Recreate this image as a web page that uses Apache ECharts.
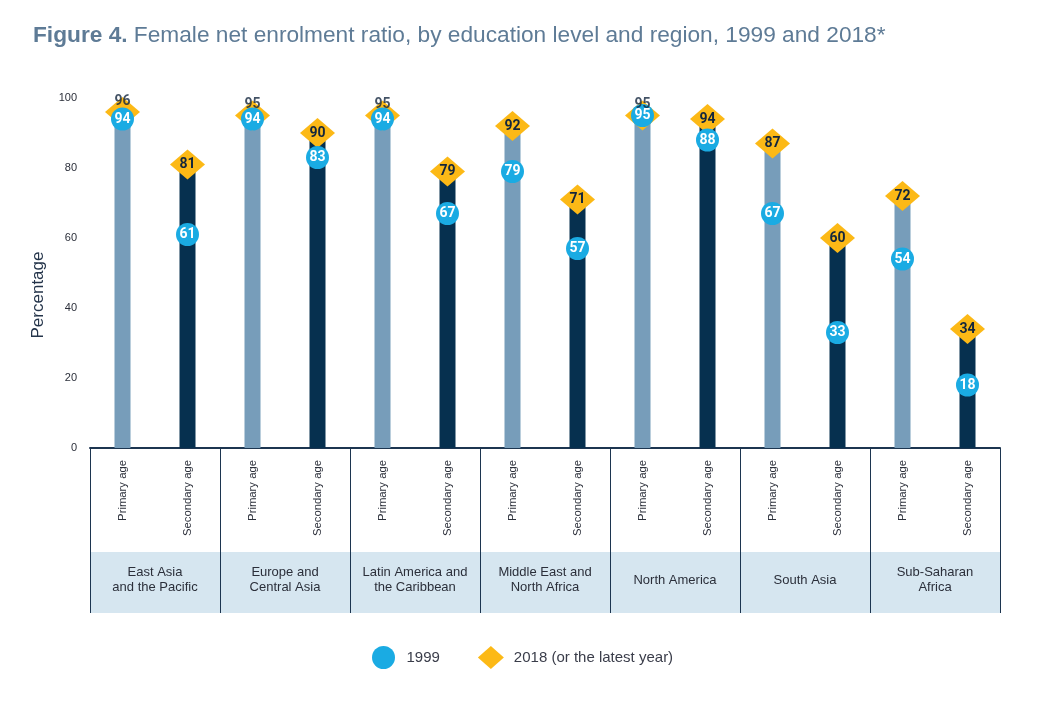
<!DOCTYPE html>
<html>
<head>
<meta charset="utf-8">
<script src="https://cdn.jsdelivr.net/npm/echarts@6/dist/echarts.min.js"></script>
<style>html,body{margin:0;padding:0;background:#fff}#c{width:1045px;height:708px}</style>
</head>
<body>
<div id="c"></div>
<script>
const regions = ['East Asia\nand the Pacific', 'Europe and\nCentral Asia', 'Latin America and\nthe Caribbean', 'Middle East and\nNorth Africa', 'North America', 'South Asia', 'Sub-Saharan\nAfrica'];
const levels = ['Primary age', 'Secondary age'];
const primary1999 = [94, 94, 94, 79, 95, 67, 54];
const secondary1999 = [61, 83, 67, 57, 88, 33, 18];
const primary2018 = [96, 95, 95, 92, 95, 87, 72];
const secondary2018 = [81, 90, 79, 71, 94, 60, 34];
const yTicks = [0, 20, 40, 60, 80, 100];

const LIGHT = '#779dba', DARK = '#06304f', CYAN = '#1aabe3', GOLD = '#fcb916';
const cats = [], v1999 = [], v2018 = [];
regions.forEach((r, i) => {
  cats.push(levels[0] + '|' + i, levels[1] + '|' + i);
  v1999.push(primary1999[i], secondary1999[i]);
  v2018.push(primary2018[i], secondary2018[i]);
});
const isClose = v2018.map((v, i) => Math.abs(v - v1999[i]) < 4);
const numFont = 'Roboto, "Liberation Sans", sans-serif';
const numLabel = {fontFamily: numFont, fontWeight: 'bold', fontSize: 14};

const chart = echarts.init(document.getElementById('c'), null, {renderer: 'canvas'});
chart.setOption({
  animation: false,
  backgroundColor: '#fff',
  title: {
    left: 28, top: 19,
    text: '{b|Figure 4.} Female net enrolment ratio, by education level and region, 1999 and 2018*',
    textStyle: {
      fontFamily: 'Liberation Sans, sans-serif', fontSize: 22.7, fontWeight: 'normal', color: '#5e7b96',
      rich: {b: {fontFamily: 'Liberation Sans, sans-serif', fontSize: 22.7, fontWeight: 'bold', color: '#5e7b96'}}
    }
  },
  legend: {
    left: 367, top: 641,
    itemWidth: 26, itemHeight: 23, itemGap: 38,
    textStyle: {fontFamily: 'Liberation Sans, sans-serif', fontSize: 15, color: '#3a3d4a', padding: [0, 0, 0, 5]},
    data: [{name: '1999', icon: 'circle'}, {name: '2018 (or the latest year)', icon: 'diamond'}]
  },
  graphic: [{
    type: 'rect', z: -10, silent: true,
    shape: {x: 90, y: 552, width: 910, height: 61},
    style: {fill: '#d6e6f0'}
  }],
  grid: {left: 90, right: 45, top: 98, bottom: 260},
  xAxis: [{
    type: 'category', data: cats, position: 'bottom',
    axisLine: {show: true, lineStyle: {color: '#1c3550', width: 2}},
    axisTick: {show: false},
    axisLabel: {
      rotate: 90, margin: 12, interval: 0,
      fontFamily: 'Liberation Sans, sans-serif', fontSize: 11.3, color: '#2b2f3a',
      formatter: v => v.split('|')[0]
    }
  }, {
    type: 'category', data: regions, position: 'bottom',
    axisLine: {show: false},
    axisTick: {show: true, length: 165, lineStyle: {color: '#1c3550', width: 1}},
    axisLabel: {
      margin: 132, interval: 0, verticalAlign: 'middle', lineHeight: 15,
      fontFamily: 'Liberation Sans, sans-serif', fontSize: 13, color: '#2b2f3a'
    }
  }],
  yAxis: {
    type: 'value', min: 0, max: 100, interval: 20,
    name: 'Percentage', nameLocation: 'middle', nameGap: 43,
    nameTextStyle: {fontFamily: 'Liberation Sans, sans-serif', fontSize: 17, color: '#24344a', padding: [0, 44, 0, 0]},
    axisLine: {show: false}, axisTick: {show: false}, splitLine: {show: false},
    axisLabel: {margin: 13, fontFamily: 'Liberation Sans, sans-serif', fontSize: 11, color: '#2b2f3a',
      formatter: v => yTicks.includes(v) ? String(v) : ''}
  },
  series: [{
    type: 'bar', name: 'bars', barWidth: 16, z: 1,
    data: v2018.map((v, i) => ({value: v, itemStyle: {color: i % 2 === 0 ? LIGHT : DARK}})),
    silent: true
  }, {
    type: 'scatter', name: '2018 (or the latest year)', symbol: 'diamond', symbolSize: [35, 30], z: 3,
    itemStyle: {color: GOLD, opacity: 1},
    data: v2018.map((v, i) => ({value: v, label: {show: !isClose[i]}})),
    label: Object.assign({show: true, position: 'inside', formatter: p => p.value, color: '#13263d'}, numLabel)
  }, {
    type: 'scatter', name: '1999', symbol: 'circle', symbolSize: 23, z: 4,
    itemStyle: {color: CYAN, opacity: 1},
    data: v1999,
    label: Object.assign({show: true, position: 'inside', formatter: p => p.value, color: '#ffffff'}, numLabel)
  }, {
    type: 'scatter', name: 'labels2018', symbolSize: 0, z: 6, silent: true,
    data: v2018.map((v, i) => ({value: v, label: {show: isClose[i]}})),
    label: Object.assign({position: 'top', distance: 4, formatter: p => p.value, color: '#13263d'}, numLabel)
  }]
});
</script>
</body>
</html>
